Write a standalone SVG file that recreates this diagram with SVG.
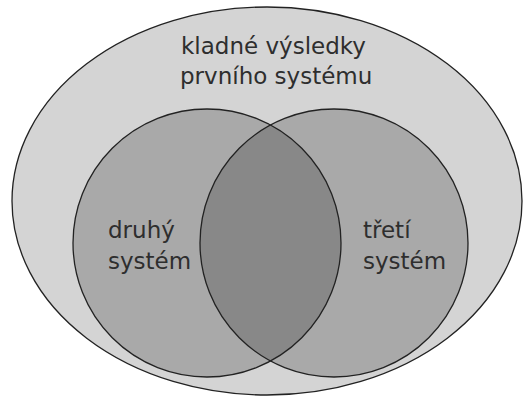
<svg xmlns="http://www.w3.org/2000/svg" width="531" height="396" viewBox="0 0 531 396">
<style>
.lbl{font-family:"DejaVu Sans","Verdana",sans-serif;font-size:23px;fill:#2e2e2e}
.ol{stroke:#222;stroke-width:1.3}
</style>
<rect width="531" height="396" fill="#ffffff"/>
<g id="prvni">
<ellipse class="ol" cx="267" cy="201" rx="255" ry="194" fill="#d4d4d4"/>
<text class="lbl" x="181" y="54">kladné výsledky</text>
<text class="lbl" x="180" y="84">prvního systému</text>
</g>
<g id="druhy">
<circle cx="207" cy="243" r="134" fill="#a9a9a9"/>
</g>
<g id="treti">
<circle cx="334" cy="243" r="134" fill="#a9a9a9"/>
</g>
<g id="prunik">
<path d="M270.5,125 A134,134 0 0 1 270.5,361 A134,134 0 0 1 270.5,125 Z" fill="#888888"/>
</g>
<g id="obrysy" fill="none">
<circle class="ol" cx="207" cy="243" r="134"/>
<circle class="ol" cx="334" cy="243" r="134"/>
</g>
<g id="popisky">
<text class="lbl" x="108" y="238">druhý</text>
<text class="lbl" x="108" y="269">systém</text>
<text class="lbl" x="363" y="238">třetí</text>
<text class="lbl" x="363" y="269">systém</text>
</g>
</svg>
